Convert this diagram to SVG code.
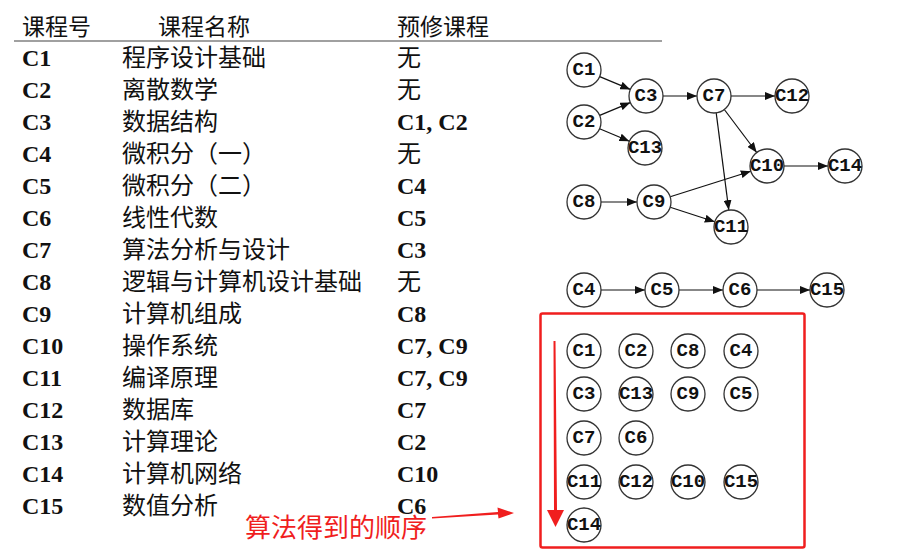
<svg xmlns="http://www.w3.org/2000/svg" width="908" height="558" viewBox="0 0 908 558">
<style>
.hd{font-family:"Noto Sans CJK SC","Noto Sans",sans-serif;font-size:23px;fill:#111}
.code{font-family:"Liberation Serif",serif;font-weight:bold;font-size:24px;fill:#111}
.cn{font-family:"Noto Sans CJK SC",sans-serif;font-size:24px;fill:#111}
.nd circle{fill:#fff;stroke:#333;stroke-width:1.3}
.nd text{font-family:"Liberation Mono",monospace;font-weight:bold;font-size:19px;fill:#111;text-anchor:middle;dominant-baseline:central}
.e{stroke:#111;stroke-width:1.2;fill:none;marker-end:url(#ah)}
.red{fill:#f01e1e}
</style>
<defs>
<marker id="ah" markerUnits="userSpaceOnUse" markerWidth="10" markerHeight="8" refX="10" refY="4" orient="auto">
<path d="M0,0 L10,4 L0,8 z" fill="#111"/>
</marker>
</defs>
<rect width="908" height="558" fill="#fff"/>
<g id="table">
<text class="hd" x="22" y="35">课程号</text>
<text class="hd" x="158" y="35">课程名称</text>
<text class="hd" x="397" y="35">预修课程</text>
<line x1="14" y1="41" x2="662" y2="41" stroke="#808080" stroke-width="1.5"/>
<g class="code">
<text x="22" y="66">C1</text><text x="22" y="98">C2</text><text x="22" y="130">C3</text><text x="22" y="162">C4</text><text x="22" y="194">C5</text><text x="22" y="226">C6</text><text x="22" y="258">C7</text><text x="22" y="290">C8</text><text x="22" y="322">C9</text><text x="22" y="354">C10</text><text x="22" y="386">C11</text><text x="22" y="418">C12</text><text x="22" y="450">C13</text><text x="22" y="482">C14</text><text x="22" y="514">C15</text>
</g>
<g class="cn">
<text x="122" y="66">程序设计基础</text><text x="122" y="98">离散数学</text><text x="122" y="130">数据结构</text><text x="122" y="162">微积分（一）</text><text x="122" y="194">微积分（二）</text><text x="122" y="226">线性代数</text><text x="122" y="258">算法分析与设计</text><text x="122" y="290">逻辑与计算机设计基础</text><text x="122" y="322">计算机组成</text><text x="122" y="354">操作系统</text><text x="122" y="386">编译原理</text><text x="122" y="418">数据库</text><text x="122" y="450">计算理论</text><text x="122" y="482">计算机网络</text><text x="122" y="514">数值分析</text>
</g>
<text class="cn" x="397" y="66">无</text><text class="cn" x="397" y="98">无</text><text class="code" x="397" y="130">C1, C2</text><text class="cn" x="397" y="162">无</text><text class="code" x="397" y="194">C4</text><text class="code" x="397" y="226">C5</text><text class="code" x="397" y="258">C3</text><text class="cn" x="397" y="290">无</text><text class="code" x="397" y="322">C8</text><text class="code" x="397" y="354">C7, C9</text><text class="code" x="397" y="386">C7, C9</text><text class="code" x="397" y="418">C7</text><text class="code" x="397" y="450">C2</text><text class="code" x="397" y="482">C10</text><text class="code" x="397" y="514">C6</text>
</g>
<g id="edges">
<line class="e" x1="599.7" y1="76.6" x2="630.3" y2="89.4"/>
<line class="e" x1="599.7" y1="115.4" x2="630.3" y2="102.6"/>
<line class="e" x1="599.6" y1="128.7" x2="629.4" y2="141.3"/>
<line class="e" x1="663" y1="96" x2="697" y2="96"/>
<line class="e" x1="731" y1="96" x2="775" y2="96"/>
<line class="e" x1="724.3" y1="109.5" x2="756.7" y2="152.5"/>
<line class="e" x1="716.2" y1="112.9" x2="728.8" y2="210.1"/>
<line class="e" x1="784" y1="166" x2="828" y2="166"/>
<line class="e" x1="601" y1="202" x2="637" y2="202"/>
<line class="e" x1="670.2" y1="196.8" x2="750.8" y2="171.2"/>
<line class="e" x1="670.2" y1="207.3" x2="714.8" y2="221.7"/>
<line class="e" x1="601" y1="290" x2="645" y2="290"/>
<line class="e" x1="679" y1="290" x2="723" y2="290"/>
<line class="e" x1="757" y1="290" x2="810" y2="290"/>
</g>
<g id="n-C1" class="nd"><circle cx="584" cy="70" r="17"/><text x="584" y="70">C1</text></g>
<g id="n-C2" class="nd"><circle cx="584" cy="122" r="17"/><text x="584" y="122">C2</text></g>
<g id="n-C3" class="nd"><circle cx="646" cy="96" r="17"/><text x="646" y="96">C3</text></g>
<g id="n-C7" class="nd"><circle cx="714" cy="96" r="17"/><text x="714" y="96">C7</text></g>
<g id="n-C12" class="nd"><circle cx="792" cy="96" r="17"/><text x="792" y="96">C12</text></g>
<g id="n-C13" class="nd"><circle cx="645" cy="148" r="17"/><text x="645" y="148">C13</text></g>
<g id="n-C10" class="nd"><circle cx="767" cy="166" r="17"/><text x="767" y="166">C10</text></g>
<g id="n-C14" class="nd"><circle cx="845" cy="166" r="17"/><text x="845" y="166">C14</text></g>
<g id="n-C8" class="nd"><circle cx="584" cy="202" r="17"/><text x="584" y="202">C8</text></g>
<g id="n-C9" class="nd"><circle cx="654" cy="202" r="17"/><text x="654" y="202">C9</text></g>
<g id="n-C11" class="nd"><circle cx="731" cy="227" r="17"/><text x="731" y="227">C11</text></g>
<g id="n-C4" class="nd"><circle cx="584" cy="290" r="17"/><text x="584" y="290">C4</text></g>
<g id="n-C5" class="nd"><circle cx="662" cy="290" r="17"/><text x="662" y="290">C5</text></g>
<g id="n-C6" class="nd"><circle cx="740" cy="290" r="17"/><text x="740" y="290">C6</text></g>
<g id="n-C15" class="nd"><circle cx="827" cy="290" r="17"/><text x="827" y="290">C15</text></g>
<g id="order">
<rect x="540.5" y="313.5" width="264" height="234" rx="2" fill="none" stroke="#f01e1e" stroke-width="2.5"/>
<polygon class="red" points="553.5,341 555.5,341 557,510 564,510 555.5,527 547,510 554,510"/>
<g id="o-C1" class="nd"><circle cx="584" cy="351" r="17"/><text x="584" y="351">C1</text></g>
<g id="o-C2" class="nd"><circle cx="636" cy="351" r="17"/><text x="636" y="351">C2</text></g>
<g id="o-C8" class="nd"><circle cx="688" cy="351" r="17"/><text x="688" y="351">C8</text></g>
<g id="o-C4" class="nd"><circle cx="741" cy="351" r="17"/><text x="741" y="351">C4</text></g>
<g id="o-C3" class="nd"><circle cx="584" cy="394" r="17"/><text x="584" y="394">C3</text></g>
<g id="o-C13" class="nd"><circle cx="636" cy="394" r="17"/><text x="636" y="394">C13</text></g>
<g id="o-C9" class="nd"><circle cx="688" cy="394" r="17"/><text x="688" y="394">C9</text></g>
<g id="o-C5" class="nd"><circle cx="741" cy="394" r="17"/><text x="741" y="394">C5</text></g>
<g id="o-C7" class="nd"><circle cx="584" cy="438" r="17"/><text x="584" y="438">C7</text></g>
<g id="o-C6" class="nd"><circle cx="636" cy="438" r="17"/><text x="636" y="438">C6</text></g>
<g id="o-C11" class="nd"><circle cx="584" cy="482" r="17"/><text x="584" y="482">C11</text></g>
<g id="o-C12" class="nd"><circle cx="636" cy="482" r="17"/><text x="636" y="482">C12</text></g>
<g id="o-C10" class="nd"><circle cx="688" cy="482" r="17"/><text x="688" y="482">C10</text></g>
<g id="o-C15" class="nd"><circle cx="741" cy="482" r="17"/><text x="741" y="482">C15</text></g>
<g id="o-C14" class="nd"><circle cx="584" cy="525" r="17"/><text x="584" y="525">C14</text></g>
</g>
<g id="note">
<text x="245" y="537" font-family="Noto Sans CJK SC,sans-serif" font-size="26" class="red">算法得到的顺序</text>
<polygon class="red" points="432,518.5 432,517 498,512 497.5,507.5 514,513 498.5,518.5 498,514.5"/>
</g>
</svg>
